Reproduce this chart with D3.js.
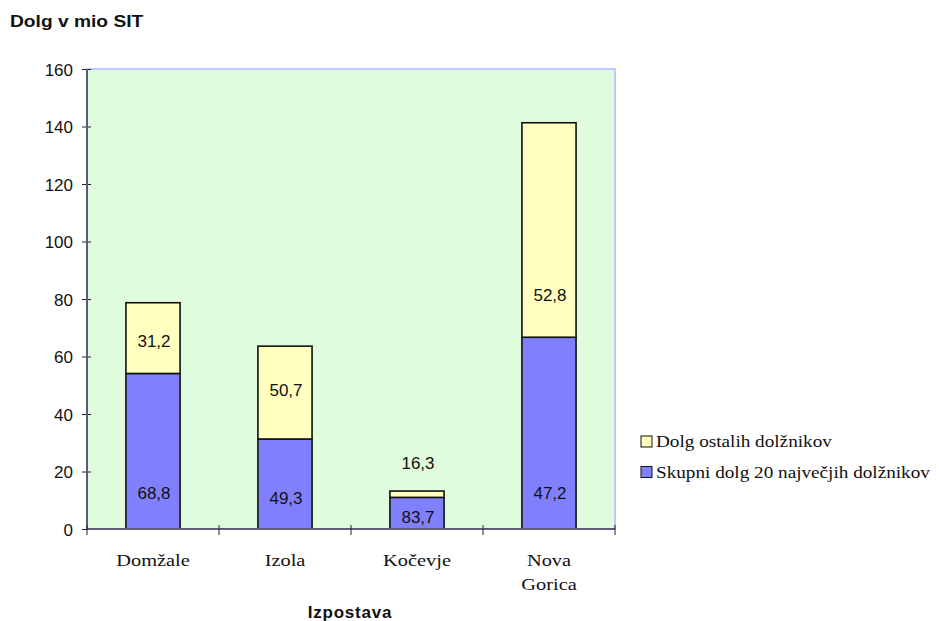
<!DOCTYPE html>
<html>
<head>
<meta charset="utf-8">
<script src="https://cdn.jsdelivr.net/npm/d3@7"></script>
<style>
  body { margin: 0; background: #fff; }
  svg { display: block; }
</style>
</head>
<body>
<div id="chart"></div>
<script>
// Chart data (mio SIT)
const categories = ["Domžale", "Izola", "Kočevje", "Nova Gorica"];
const seriesNames = ["Skupni dolg 20 največjih dolžnikov", "Dolg ostalih dolžnikov"];
const top20Debt = [54.1, 31.3, 11.0, 66.7];
const otherDebt = [24.6, 32.3, 2.2, 74.6];
// shares shown as bar labels (%)
const top20Share = ["68,8", "49,3", "83,7", "47,2"];
const otherShare = ["31,2", "50,7", "16,3", "52,8"];
const yTicks = [0, 20, 40, 60, 80, 100, 120, 140, 160];

// label heights (in data units) as placed in the original chart
const top20LabelAt = [12.5, 10.8, 4.3, 12.5];
const otherLabelAt = [65.6, 48.3, 22.9, 81.6];

const width = 939, height = 621;
const plot = { left: 87, right: 615, top: 69, bottom: 529 };
const sans = "'Liberation Sans', Arial, sans-serif";
const serif = "'Liberation Serif', 'Times New Roman', serif";
const stretch = 1.2; // original text is drawn a bit wide

const svg = d3.select("#chart").append("svg")
    .attr("width", width)
    .attr("height", height);

const x = d3.scaleBand()
    .domain(categories)
    .range([plot.left, plot.right])
    .paddingInner(0.59)
    .paddingOuter(0.295);

const y = d3.scaleLinear()
    .domain([0, 160])
    .range([plot.bottom, plot.top]);

// plot area background
svg.append("rect")
    .attr("x", plot.left)
    .attr("y", plot.top)
    .attr("width", plot.right - plot.left)
    .attr("height", plot.bottom - plot.top)
    .attr("fill", "#dffcdc")
    .attr("stroke", "#c4c4ff")
    .attr("stroke-width", 2);

// stack the two series
const rows = categories.map((c, i) => ({ cat: c, top20: top20Debt[i], other: otherDebt[i] }));
const stacked = d3.stack().keys(["top20", "other"])(rows);
const colors = { top20: "#8080ff", other: "#ffffc0" };

svg.selectAll(".series")
    .data(stacked)
    .enter().append("g")
    .attr("class", "series")
    .attr("fill", d => colors[d.key])
    .selectAll("rect")
    .data(d => d)
    .enter().append("rect")
    .attr("x", d => x(d.data.cat))
    .attr("width", x.bandwidth())
    .attr("y", d => y(d[1]))
    .attr("height", d => y(d[0]) - y(d[1]))
    .attr("stroke", "#111")
    .attr("stroke-width", 1.6);

// axes
const axisColor = "#5c5c78";
const yAxis = svg.append("g")
    .attr("transform", `translate(${plot.left},0)`)
    .call(d3.axisLeft(y).tickValues(yTicks).tickSize(5).tickFormat(d3.format("d")));
yAxis.select(".domain").remove();
yAxis.selectAll(".tick line").attr("x2", 4).attr("x1", -5).attr("stroke", "#222");
yAxis.selectAll(".tick text")
    .attr("x", -14)
    .attr("dy", "0.36em")
    .style("font-family", sans)
    .style("font-size", "17px")
    .attr("fill", "#111");

svg.append("line")
    .attr("x1", plot.left).attr("x2", plot.left)
    .attr("y1", plot.top).attr("y2", plot.bottom)
    .attr("stroke", axisColor).attr("stroke-width", 2);
svg.append("line")
    .attr("x1", plot.left).attr("x2", plot.right)
    .attr("y1", plot.bottom).attr("y2", plot.bottom)
    .attr("stroke", axisColor).attr("stroke-width", 2);

// category tick marks at band edges
const step = x.step();
const edges = d3.range(categories.length + 1).map(i => plot.left + i * step);
svg.selectAll(".xtick")
    .data(edges)
    .enter().append("line")
    .attr("x1", d => d).attr("x2", d => d)
    .attr("y1", plot.bottom - 4).attr("y2", plot.bottom + 6)
    .attr("stroke", "#222");

// category labels (serif, wrapped)
svg.selectAll(".xlabel")
    .data(categories)
    .enter().append("text")
    .attr("class", "xlabel")
    .attr("text-anchor", "middle")
    .attr("transform", d => `translate(${x(d) + x.bandwidth() / 2},566) scale(${stretch},1)`)
    .style("font-family", serif)
    .style("font-size", "17px")
    .attr("fill", "#111")
    .each(function (d) {
        const t = d3.select(this);
        d.split(" ").forEach((p, i) => {
            t.append("tspan")
                .attr("x", 0)
                .attr("dy", i === 0 ? 0 : 24)
                .text(p);
        });
    });

// bar labels
function addLabels(texts, at) {
    svg.selectAll(null)
        .data(categories)
        .enter().append("text")
        .attr("x", d => x(d) + x.bandwidth() / 2 + 1)
        .attr("y", (d, i) => y(at[i]))
        .attr("dy", "0.36em")
        .attr("text-anchor", "middle")
        .style("font-family", sans)
        .style("font-size", "17px")
        .attr("fill", "#111")
        .text((d, i) => texts[i]);
}
addLabels(top20Share, top20LabelAt);
addLabels(otherShare, otherLabelAt);

// titles
svg.append("text")
    .attr("transform", `translate(10,27) scale(${stretch},1)`)
    .style("font-family", sans)
    .style("font-size", "16px")
    .style("font-weight", "bold")
    .attr("fill", "#111")
    .text("Dolg v mio SIT");

svg.append("text")
    .attr("x", (plot.left + plot.right) / 2 - 1)
    .attr("y", 618)
    .attr("text-anchor", "middle")
    .style("font-family", sans)
    .style("font-size", "17px")
    .style("font-weight", "bold")
    .style("letter-spacing", "0.8px")
    .attr("fill", "#111")
    .text("Izpostava");

// legend (yellow series first)
const legendItems = [
    { name: seriesNames[1], color: colors.other },
    { name: seriesNames[0], color: colors.top20 }
];
const legend = svg.selectAll(".legend")
    .data(legendItems)
    .enter().append("g")
    .attr("class", "legend")
    .attr("transform", (d, i) => `translate(641, ${436 + i * 30.5})`);
legend.append("rect")
    .attr("width", 11).attr("height", 11)
    .attr("fill", d => d.color)
    .attr("stroke", "#111").attr("stroke-width", 1);
legend.append("text")
    .attr("transform", `translate(15,11) scale(${stretch},1)`)
    .style("font-family", serif)
    .style("font-size", "16px")
    .attr("fill", "#111")
    .text(d => d.name);
</script>
</body>
</html>
